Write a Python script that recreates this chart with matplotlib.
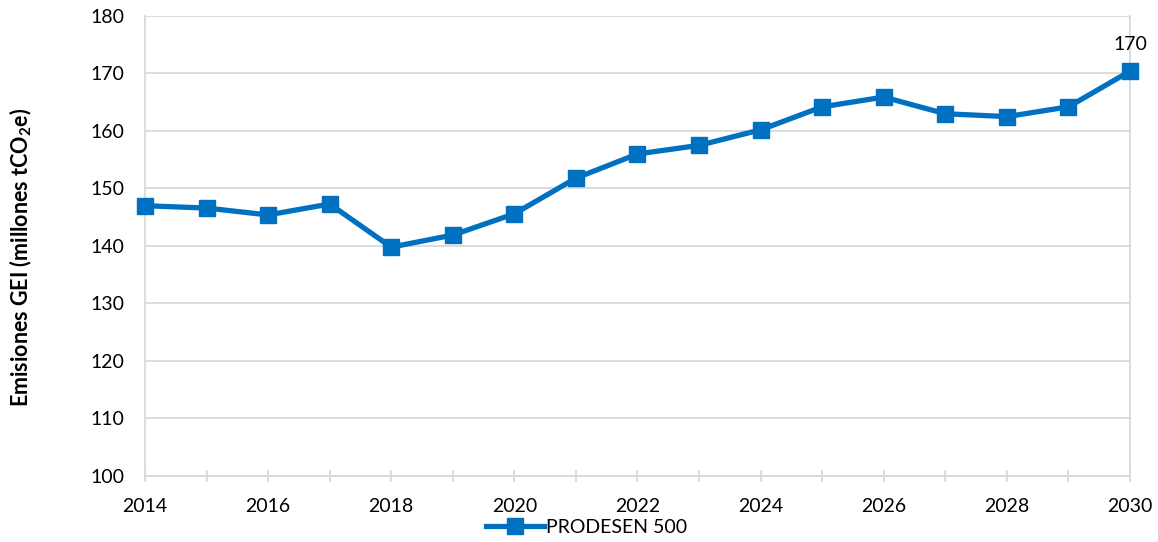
import matplotlib
matplotlib.use("Agg")
import matplotlib.pyplot as plt
from matplotlib.ticker import MultipleLocator

plt.rcParams['font.family'] = ['Lato', 'DejaVu Sans']

years = list(range(2014, 2031))
emissions = [147.0, 146.6, 145.4, 147.3, 139.8, 141.9, 145.6, 151.8, 156.0,
             157.5, 160.2, 164.2, 165.9, 163.0, 162.5, 164.2, 170.4]
series_name = "PRODESEN 500"

blue = "#0070C0"
grid_grey = "#D9D9D9"

fig = plt.figure(figsize=(11.58, 5.42), dpi=100)
ax = fig.add_axes([0.1252, 0.1218, 0.8506, 0.8487])

ax.plot(years, emissions, color=blue, lw=3.8, marker='s', ms=11,
        label=series_name, solid_joinstyle='round', clip_on=False, zorder=3)

# label only the last point
ax.annotate(f"{emissions[-1]:.0f}", (years[-1], emissions[-1]),
            xytext=(0, 13), textcoords='offset points',
            ha='center', va='bottom', fontsize=14)

ax.set_xlim(2014, 2030)
ax.set_ylim(100, 180)
ax.xaxis.set_major_locator(MultipleLocator(2))
ax.xaxis.set_minor_locator(MultipleLocator(1))
ax.yaxis.set_major_locator(MultipleLocator(10))

ax.grid(axis='y', color=grid_grey, lw=1.3)
ax.set_axisbelow(True)
ax.spines['top'].set_visible(False)
for side in ['left', 'right', 'bottom']:
    ax.spines[side].set_color(grid_grey)
    ax.spines[side].set_linewidth(1.3)

ax.tick_params(axis='x', which='both', direction='inout', length=9,
               color=grid_grey, width=1.3, labelsize=14, pad=11)
ax.tick_params(axis='y', length=0, labelsize=14, pad=15)

ax.set_ylabel("Emisiones GEI (millones tCO$_\\mathregular{2}$e)",
              fontsize=15.5, fontweight='bold')
ax.yaxis.set_label_coords(-0.113, 0.475)

ax.legend(loc='center', bbox_to_anchor=(0.448, -0.111),
          frameon=False, fontsize=14, handlelength=3.0,
          handletextpad=0.1, borderpad=0)

fig.savefig("out.png", dpi=100)
